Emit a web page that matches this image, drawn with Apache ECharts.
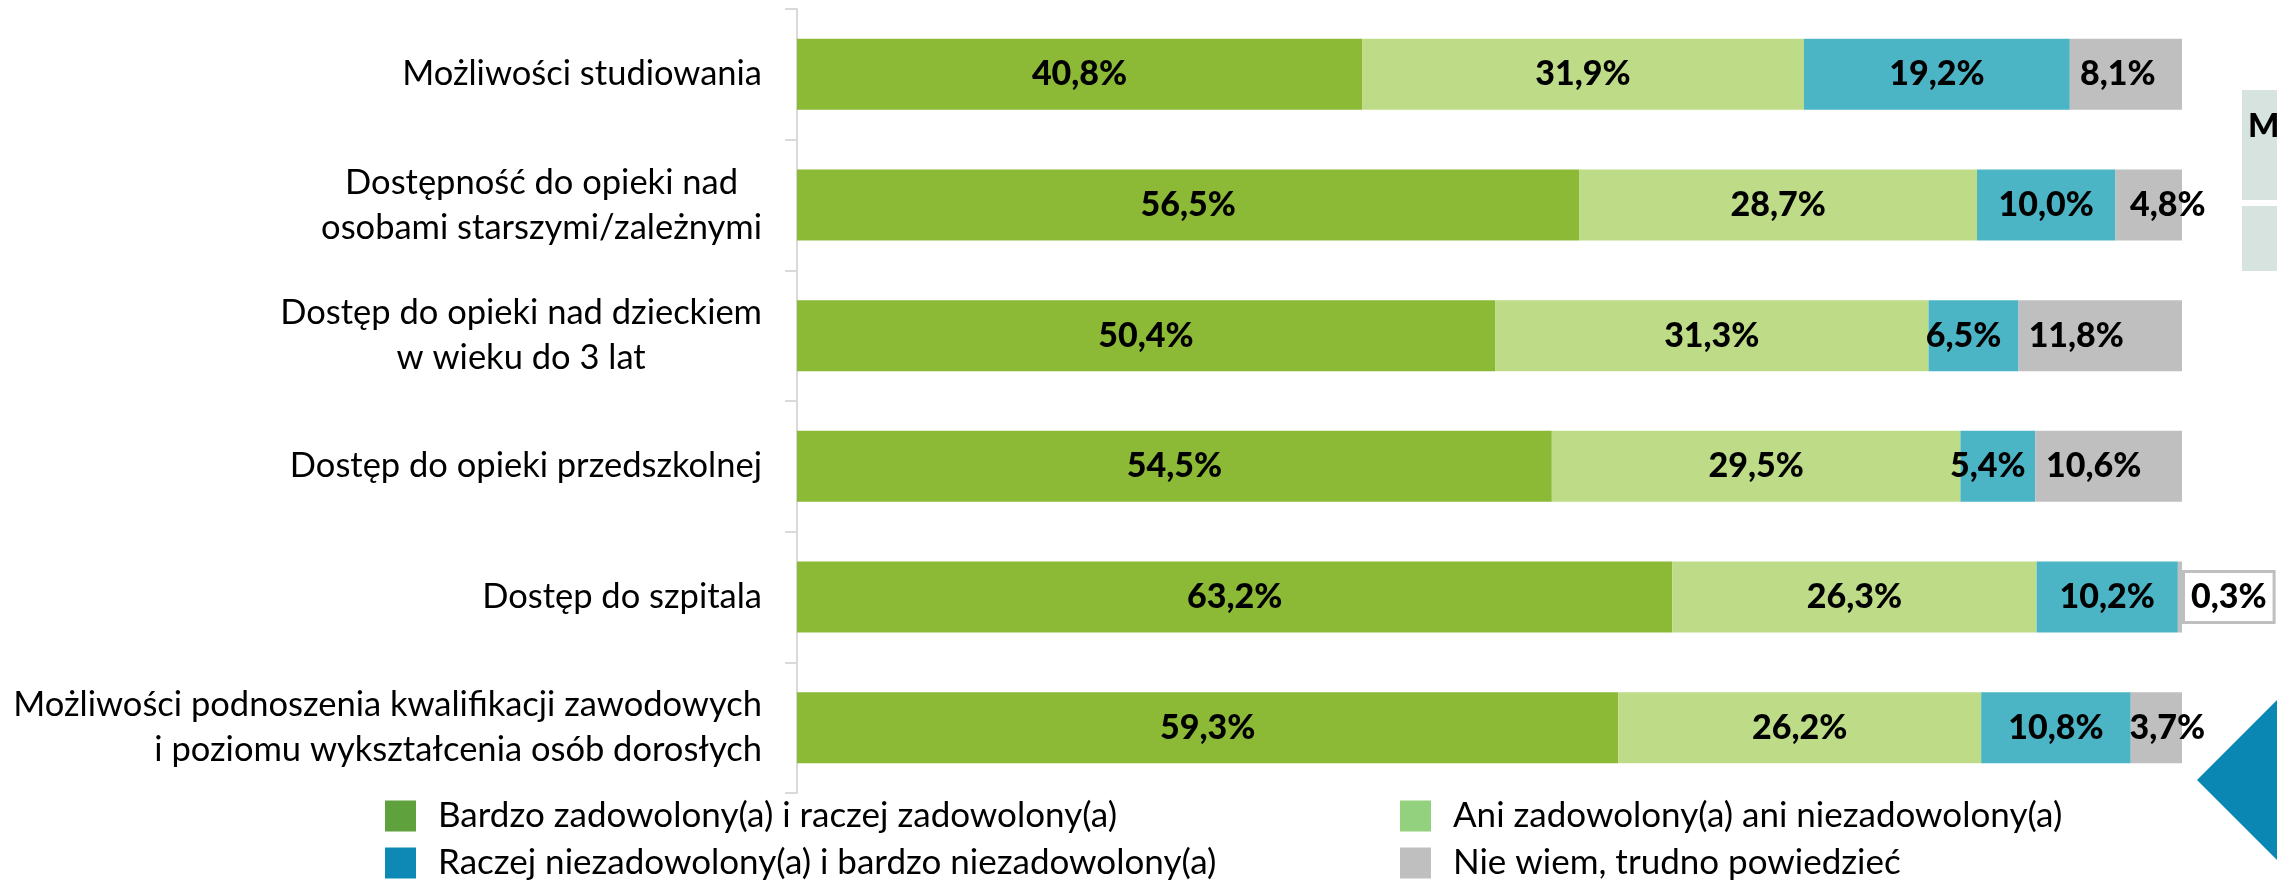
<!DOCTYPE html>
<html>
<head>
<meta charset="utf-8">
<script src="https://cdn.jsdelivr.net/npm/echarts@6/dist/echarts.min.js"></script>
<style>
  html, body { margin: 0; padding: 0; background: #ffffff; }
  #chart { width: 2277px; height: 888px; }
</style>
</head>
<body>
<div id="chart"></div>
<script>
// Ocena dostępności usług – odsetki odpowiedzi (każdy wiersz sumuje się do 100%)
const categories = [
  'Możliwości studiowania',
  'Dostępność do opieki nad\nosobami starszymi/zależnymi',
  'Dostęp do opieki nad dzieckiem\nw wieku do 3 lat',
  'Dostęp do opieki przedszkolnej',
  'Dostęp do szpitala',
  'Możliwości podnoszenia kwalifikacji zawodowych\ni poziomu wykształcenia osób dorosłych'
];
const seriesNames = [
  'Bardzo zadowolony(a) i raczej zadowolony(a)',
  'Ani zadowolony(a) ani niezadowolony(a)',
  'Raczej niezadowolony(a) i bardzo niezadowolony(a)',
  'Nie wiem, trudno powiedzieć'
];
const satisfied    = [40.8, 56.5, 50.4, 54.5, 63.2, 59.3];
const neutral      = [31.9, 28.7, 31.3, 29.5, 26.3, 26.2];
const dissatisfied = [19.2, 10.0, 6.5, 5.4, 10.2, 10.8];
const dontKnow     = [8.1, 4.8, 11.8, 10.6, 0.3, 3.7];

// Styling
const barColors    = ['#8CB936', '#BEDB87', '#4BB5C6', '#BFBFBF'];
const legendColors = ['#5FA13C', '#93D17F', '#0E88B4', '#BFBFBF'];
const FONT = 'Lato, "Open Sans", sans-serif';
// per-row horizontal nudges of value labels on the narrow segments
const nudgeDissatisfied = [0, 0, -10, -10, 0, 0];
const nudgeDontKnow     = [-8, 19, -24, -15, 0, 11];

const fmt = v => v.toFixed(1).replace('.', ',') + '%';

function makeSeries(idx, values, nudges) {
  return {
    name: seriesNames[idx],
    type: 'bar',
    stack: 'total',
    barWidth: 71,
    itemStyle: { color: barColors[idx] },
    label: {
      show: true,
      position: 'inside',
      formatter: p => fmt(p.value),
      color: '#000',
      fontFamily: FONT,
      fontWeight: 900,
      fontSize: 34
    },
    emphasis: { disabled: true },
    data: values.map((v, i) => {
      const item = { value: v };
      if (nudges && nudges[i]) item.label = { offset: [nudges[i], 0] };
      return item;
    })
  };
}

const series = [
  makeSeries(0, satisfied),
  makeSeries(1, neutral),
  makeSeries(2, dissatisfied, nudgeDissatisfied),
  makeSeries(3, dontKnow, nudgeDontKnow)
];
// the tiny last segment of "Dostęp do szpitala" carries its label outside, boxed
series[3].data[4].label = {
  position: 'right',
  distance: 3,
  backgroundColor: '#ffffff',
  borderColor: '#BFBFBF',
  borderWidth: 3,
  padding: [8, 6, 6, 6]
};

// category label lines: centred, except the last two-line label which is right-aligned
function labelFormatter(value) {
  const lines = value.split('\n');
  if (lines.length === 1) return '{r|' + value + '}';
  const style = value.startsWith('Możliwości podnoszenia') ? 'r' : 'c';
  return lines.map(l => '{' + style + '|' + l + '}').join('\n');
}

const CAT_SIZE = 34.5;
const legendText = {
  fontFamily: FONT,
  fontSize: 35,
  lineHeight: 40,
  color: '#000',
  padding: [6, 0, 0, 17]
};

// one legend entry per block so the 2x2 arrangement is fixed
const legendSlots = [
  { idx: 0, left: 385,  top: 793 },
  { idx: 2, left: 385,  top: 840 },
  { idx: 1, left: 1400, top: 793 },
  { idx: 3, left: 1400, top: 840 }
];
const legends = legendSlots.map(s => ({
  left: s.left,
  top: s.top,
  orient: 'horizontal',
  icon: 'rect',
  itemWidth: 31,
  itemHeight: 31,
  padding: 0,
  selectedMode: false,
  textStyle: legendText,
  data: [{ name: seriesNames[s.idx], itemStyle: { color: legendColors[s.idx] } }]
}));

const chart = echarts.init(document.getElementById('chart'), null, { renderer: 'canvas' });
chart.setOption({
  animation: false,
  backgroundColor: '#ffffff',
  grid: { left: 797, right: 95, top: 9, bottom: 95, containLabel: false },
  xAxis: {
    type: 'value',
    min: 0,
    max: 100,
    show: false
  },
  yAxis: {
    type: 'category',
    inverse: true,
    data: categories,
    axisLine: { show: true, lineStyle: { color: '#D9D9D9', width: 2 } },
    axisTick: { show: true, length: 12, lineStyle: { color: '#D9D9D9', width: 2 } },
    axisLabel: {
      margin: 35,
      formatter: labelFormatter,
      color: '#000',
      fontFamily: FONT,
      fontSize: CAT_SIZE,
      lineHeight: 45,
      rich: {
        c: { align: 'center', fontFamily: FONT, fontSize: CAT_SIZE, lineHeight: 45, color: '#000' },
        r: { align: 'right', fontFamily: FONT, fontSize: CAT_SIZE, lineHeight: 45, color: '#000' }
      }
    },
    splitLine: { show: false }
  },
  legend: legends,
  // side panel edge and corner ornament of the slide
  graphic: [
    { type: 'rect', left: 2242, top: 90, shape: { width: 40, height: 110 }, style: { fill: '#D6E3DE' }, silent: true },
    { type: 'text', left: 2248, top: 110, style: { text: 'M', fill: '#000', font: '900 33px ' + FONT }, silent: true },
    { type: 'rect', left: 2242, top: 206, shape: { width: 40, height: 65 }, style: { fill: '#D6E3DE' }, silent: true },
    { type: 'polygon', shape: { points: [[2197, 780], [2277, 700], [2277, 860]] }, style: { fill: '#0B87B3' }, silent: true }
  ],
  series: series
});
</script>
</body>
</html>
